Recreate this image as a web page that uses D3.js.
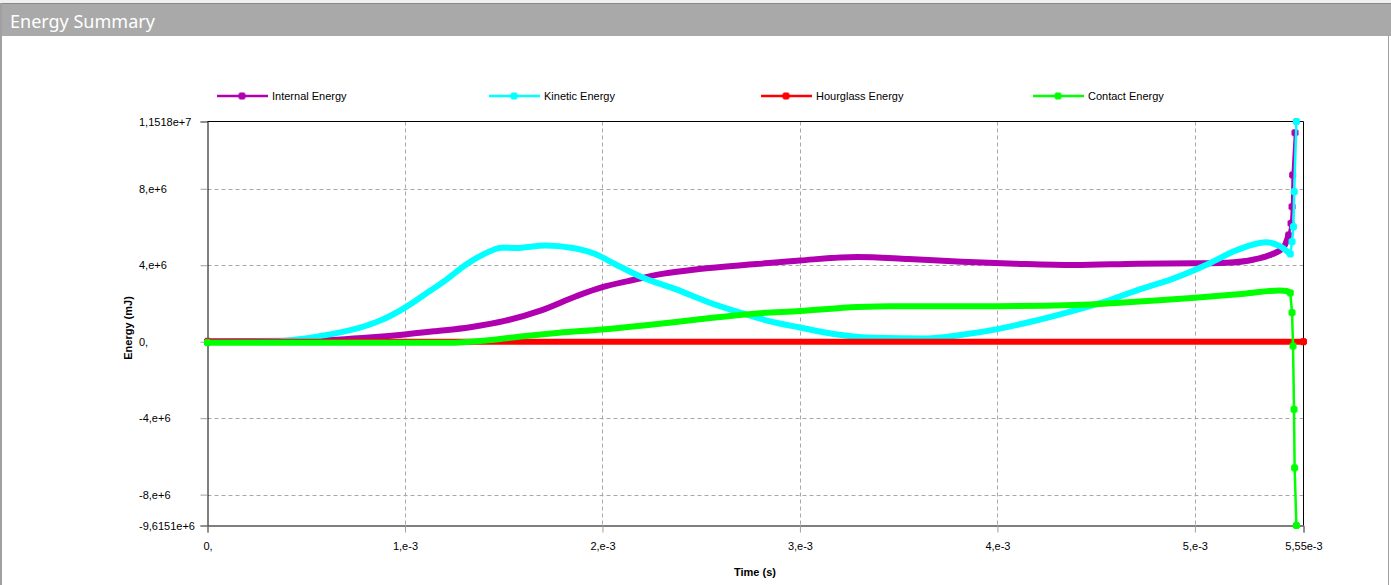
<!DOCTYPE html>
<html><head><meta charset="utf-8">
<script src="https://cdn.jsdelivr.net/npm/d3@7"></script>
<style>
html,body{margin:0;padding:0;background:#fff;overflow:hidden}
svg{display:block}
</style></head><body>
<svg id="chart" width="1391" height="585"></svg>
<script>
// ---- data (time in units of 1e-3 s, energy in units of 1e6 mJ) ----
const seriesNames = ["Internal Energy", "Kinetic Energy", "Hourglass Energy", "Contact Energy"];

const internalTime = [0,0.5,0.8,1.0,1.155,1.33,1.51,1.69,1.87,2.0,2.13,2.31,2.49,2.78,3.0,3.29,3.55,3.82,4.09,4.39,4.71,5.0,5.16,5.3,5.39,5.45,5.475,5.487,5.492,5.495,5.507];
const internalEnergy = [0.02,0.05,0.21,0.38,0.55,0.76,1.1,1.64,2.39,2.85,3.17,3.56,3.8,4.06,4.25,4.43,4.32,4.18,4.08,4.01,4.08,4.1,4.13,4.3,4.57,4.95,5.58,6.19,7.06,8.72,10.93];

const kineticTime = [0,0.35,0.44,0.62,0.8,0.89,1.0,1.1,1.21,1.31,1.4,1.49,1.56,1.71,1.85,1.96,2.06,2.2,2.37,2.54,2.72,2.85,3.0,3.2,3.375,3.64,3.82,4.0,4.18,4.36,4.54,4.71,4.89,5.07,5.21,5.36,5.43,5.483,5.492,5.499,5.503,5.514];
const kineticEnergy = [0,0.02,0.1,0.38,0.82,1.17,1.78,2.47,3.25,4.04,4.58,4.92,4.9,5.03,4.9,4.6,4.08,3.37,2.75,2.05,1.45,1.06,0.74,0.36,0.2,0.17,0.36,0.66,1.07,1.55,2.08,2.7,3.3,4.08,4.78,5.2,5.0,4.59,5.23,6.01,7.85,11.518];

const hourglassTime = [0,1,2,3,4,5,5.55];
const hourglassEnergy = [0,0,0,0,0,0,0];

const contactTime = [0,1.25,1.42,1.6,1.78,2.0,2.22,2.49,2.78,3.0,3.29,3.46,4.0,4.39,4.62,5.0,5.25,5.43,5.465,5.483,5.492,5.497,5.502,5.505,5.514];
const contactEnergy = [-0.05,-0.05,0.07,0.29,0.47,0.64,0.86,1.17,1.48,1.6,1.81,1.86,1.86,1.92,2.04,2.3,2.51,2.68,2.65,2.55,1.52,-0.23,-3.54,-6.6,-9.6151];

const xTickValues = [0,1,2,3,4,5,5.55];
const xTickLabels = ["0,","1,e-3","2,e-3","3,e-3","4,e-3","5,e-3","5,55e-3"];
const yTickValues = [-9.6151,-8,-4,0,4,8,11.518];
const yTickLabels = ["-9,6151e+6","-8,e+6","-4,e+6","0,","4,e+6","8,e+6","1,1518e+7"];

// ---- styles ----
const colors = ["#b000b0","#00ffff","#ff0000","#00ff00"];
const thinStart = [5.48, 5.485, Infinity, 5.49]; // where dense band ends (thin line + markers)
const FONT = "'Liberation Sans', Arial, sans-serif";

const series = [
  {time: internalTime, energy: internalEnergy},
  {time: kineticTime, energy: kineticEnergy},
  {time: hourglassTime, energy: hourglassEnergy},
  {time: contactTime, energy: contactEnergy}
].map((s, i) => ({
  name: seriesNames[i], color: colors[i], thin: thinStart[i],
  points: s.time.map((t, j) => [t, s.energy[j]])
}));

const svg = d3.select("#chart");
const W = 1391, H = 585;

// window chrome
svg.append("rect").attr("x",0).attr("y",0).attr("width",W).attr("height",H).attr("fill","#fff");
svg.append("rect").attr("x",0).attr("y",0).attr("width",W).attr("height",3).attr("fill","#f0f0f0");
svg.append("rect").attr("x",0).attr("y",3).attr("width",W).attr("height",33).attr("fill","#a9a9a9");
svg.append("line").attr("x1",0).attr("x2",W).attr("y1",3.5).attr("y2",3.5).attr("stroke","#8a8a8a");
svg.append("line").attr("x1",1).attr("x2",1).attr("y1",3).attr("y2",H).attr("stroke","#a0a0a0").attr("stroke-width",2);
svg.append("line").attr("x1",1388.5).attr("x2",1388.5).attr("y1",36).attr("y2",H).attr("stroke","#a0a0a0");
svg.append("text").attr("x",10).attr("y",28).text("Energy Summary")
  .attr("fill","#fff").attr("font-family","'Noto Sans','Open Sans',sans-serif").attr("font-size",18);

// scales
const x = d3.scaleLinear().domain([0, 5.55]).range([207.5, 1303.5]);
const y = d3.scaleLinear().domain([-9.6151, 11.518]).range([525.5, 121.5]);

// grid
const grid = svg.append("g");
grid.selectAll(".gx").data(xTickValues.filter(v => v > 0 && v < 5.55)).join("line")
  .attr("x1", d => Math.round(x(d)) + 0.5).attr("x2", d => Math.round(x(d)) + 0.5)
  .attr("y1", 121.5).attr("y2", 525.5)
  .attr("stroke","#a8a8a8").attr("stroke-dasharray","4,3");
grid.selectAll(".gy").data(yTickValues.filter(v => v > -9.6 && v < 11.5)).join("line")
  .attr("y1", d => Math.round(y(d)) + 0.5).attr("y2", d => Math.round(y(d)) + 0.5)
  .attr("x1", 207.5).attr("x2", 1303.5)
  .attr("stroke","#a8a8a8").attr("stroke-dasharray","4,3");

// axes
const yAxis = svg.append("g").attr("transform","translate(207.5,0)")
  .call(d3.axisLeft(y).tickValues(yTickValues).tickFormat((d,i) => yTickLabels[i]).tickSize(7).tickPadding(8));
const xAxis = svg.append("g").attr("transform","translate(0,525.5)")
  .call(d3.axisBottom(x).tickValues(xTickValues).tickFormat((d,i) => xTickLabels[i]).tickSize(7).tickPadding(10));
[yAxis, xAxis].forEach(a => {
  a.select(".domain").attr("stroke","#000");
  a.selectAll(".tick line").attr("stroke","#a0a0a0");
  a.selectAll(".tick text").attr("font-family",FONT).attr("font-size",11).attr("fill","#000");
});
// y labels are left-aligned in the reference
yAxis.selectAll(".tick text").attr("text-anchor","start").attr("x", 139 - 207.5);

// frame top/right
svg.append("line").attr("x1",207.5).attr("x2",1303.5).attr("y1",121.5).attr("y2",121.5).attr("stroke","#000");
svg.append("line").attr("x1",1303.5).attr("x2",1303.5).attr("y1",121.5).attr("y2",525.5).attr("stroke","#000");

// axis titles
svg.append("text").attr("x",755).attr("y",575.5).attr("text-anchor","middle")
  .attr("font-family",FONT).attr("font-weight","bold").attr("font-size",11).text("Time (s)");
svg.append("text").attr("transform","translate(132,328) rotate(-90)").attr("text-anchor","middle")
  .attr("font-family",FONT).attr("font-weight","bold").attr("font-size",11).text("Energy (mJ)");

// marker helper
function marker(g, cx, cy, color) {
  g.append("rect").attr("x",cx-3.5).attr("y",cy-2.5).attr("width",7).attr("height",5).attr("fill",color);
  g.append("rect").attr("x",cx-2.5).attr("y",cy-3.5).attr("width",5).attr("height",7).attr("fill",color);
}

// series
const thickLine = d3.line().x(d => x(d[0])).y(d => y(d[1])).curve(d3.curveMonotoneX);
const thinLine = d3.line().x(d => x(d[0])).y(d => y(d[1]));
const plot = svg.append("g");
series.forEach(s => {
  const g = plot.append("g");
  let k = s.points.findIndex(p => p[0] >= s.thin);
  if (k < 0) k = s.points.length;
  const thick = s.points.slice(0, k);
  const thin = k < s.points.length ? s.points.slice(k - 1) : [];
  g.append("path").attr("d", thickLine(thick)).attr("fill","none")
    .attr("stroke", s.color).attr("stroke-width", 6).attr("stroke-linejoin","round");
  if (thin.length) {
    g.append("path").attr("d", thinLine(thin)).attr("fill","none")
      .attr("stroke", s.color).attr("stroke-width", 2.5).attr("stroke-linejoin","round");
  }
  marker(g, x(thick[0][0]), y(thick[0][1]), s.color);
  if (!thin.length) marker(g, x(thick[thick.length-1][0]), y(thick[thick.length-1][1]), s.color);
  thin.forEach(p => marker(g, x(p[0]), y(p[1]), s.color));
});

// legend
const legend = svg.append("g");
seriesNames.forEach((name, i) => {
  const x0 = 217 + i * 272;
  legend.append("line").attr("x1",x0).attr("x2",x0+51).attr("y1",96).attr("y2",96)
    .attr("stroke",colors[i]).attr("stroke-width",2.5);
  marker(legend, x0 + 25, 96, colors[i]);
  legend.append("text").attr("x", x0 + 55).attr("y", 96).attr("dy","0.35em")
    .attr("font-family",FONT).attr("font-size",11).attr("fill","#000").text(name);
});
</script>
</body></html>
